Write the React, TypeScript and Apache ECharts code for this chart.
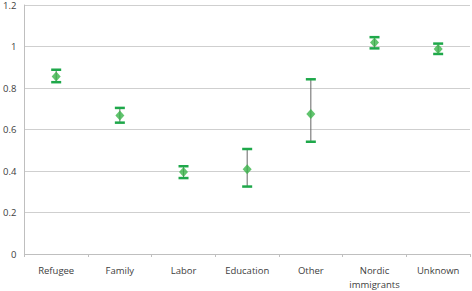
import React, { useEffect, useRef } from "react";
import * as echarts from "echarts";

const categories = ["Refugee", "Family", "Labor", "Education", "Other", "Nordic\nimmigrants", "Unknown"];
const estimates = [0.856, 0.667, 0.395, 0.408, 0.675, 1.019, 0.988];
const lowers = [0.828, 0.633, 0.366, 0.325, 0.541, 0.991, 0.964];
const uppers = [0.888, 0.704, 0.423, 0.506, 0.842, 1.045, 1.014];
const yTicks = [0, 0.2, 0.4, 0.6, 0.8, 1, 1.2];

export default function App() {
  const ref = useRef<HTMLDivElement>(null);
  useEffect(() => {
    if (!ref.current) return;
    const chart = echarts.init(ref.current, null, { renderer: "svg" });
    const errData = categories.map((_, i) => [i, lowers[i], uppers[i]]);
    chart.setOption({
      animation: false,
      grid: { left: 23, right: 2, top: 5, bottom: 34, containLabel: false },
      xAxis: {
        type: "category",
        data: categories,
        boundaryGap: true,
        axisLine: { lineStyle: { color: "#bfbfbf" } },
        axisTick: { show: true, length: 3, lineStyle: { color: "#bfbfbf" } },
        axisLabel: { color: "#404040", fontFamily: "Open Sans", fontSize: 9.5, margin: 9, lineHeight: 14, interval: 0 },
      },
      yAxis: {
        type: "value",
        min: 0,
        max: yTicks[yTicks.length - 1],
        interval: 0.2,
        axisLine: { show: true, lineStyle: { color: "#bfbfbf" } },
        axisTick: { show: false },
        splitLine: { lineStyle: { color: "#cfcfcf", width: 1.2 } },
        axisLabel: { color: "#404040", fontFamily: "Open Sans", fontSize: 9.5, margin: 8 },
      },
      series: [
        {
          type: "custom",
          data: errData,
          z: 2,
          renderItem: (params: any, api: any) => {
            const x = api.value(0);
            const lo = api.coord([x, api.value(1)]);
            const hi = api.coord([x, api.value(2)]);
            const hw = 5;
            return {
              type: "group",
              children: [
                { type: "line", shape: { x1: lo[0], y1: lo[1], x2: hi[0], y2: hi[1] }, style: { stroke: "#666666", lineWidth: 1 } },
                { type: "line", shape: { x1: lo[0] - hw, y1: lo[1], x2: lo[0] + hw, y2: lo[1] }, style: { stroke: "#1ea84a", lineWidth: 2.5 } },
                { type: "line", shape: { x1: hi[0] - hw, y1: hi[1], x2: hi[0] + hw, y2: hi[1] }, style: { stroke: "#1ea84a", lineWidth: 2.5 } },
              ],
            };
          },
        },
        {
          type: "scatter",
          data: estimates.map((v, i) => [i, v]),
          symbol: "diamond",
          symbolSize: [9, 10],
          itemStyle: { color: "#3ab54a" },
          z: 3,
        },
      ],
    });
    return () => chart.dispose();
  }, []);
  return <div ref={ref} style={{ width: 472, height: 291, position: "absolute", left: 0, top: 0, background: "#fff" }} />;
}
